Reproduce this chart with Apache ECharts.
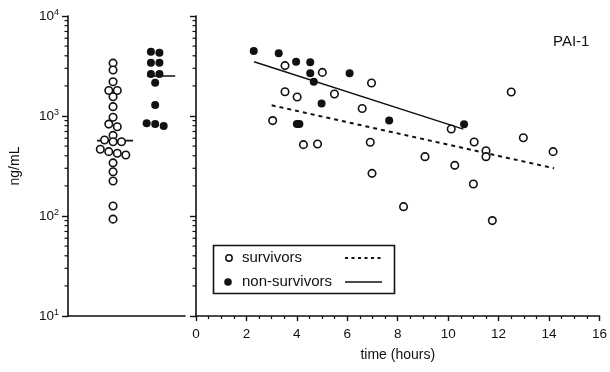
<!DOCTYPE html>
<html><head><meta charset="utf-8">
<script src="https://cdn.jsdelivr.net/npm/echarts@6/dist/echarts.min.js"></script>
<style>html,body{margin:0;padding:0;background:#fff}#c{width:610px;height:372px}</style>
</head><body><div id="c"></div>
<script>
// ---------- DATA ----------
// Left panel: one PAI-1 value per patient (ng/mL)
const leftSurvivors = [3380, 2880, 2200, 1800, 1800, 1560, 1240, 970, 830, 780, 640, 575, 553, 553, 465, 440, 424, 407, 340, 277, 224, 126, 93];
const leftNonSurvivors = [4400, 4290, 3410, 3410, 2630, 2630, 2150, 1290, 845, 832, 794];
const leftMedians = [567, 2510]; // survivors, non-survivors

// Right panel: value vs time
const survTime  = [3.53, 5.01, 6.96, 3.53, 4.01, 5.49, 6.59, 3.04, 4.26, 4.82, 6.91, 6.98, 8.23, 9.08, 10.12, 11.03, 11.5, 11.5, 10.26, 11.0, 11.75, 12.5, 12.98, 14.16];
const survValue = [3190, 2730, 2140, 1750, 1550, 1660, 1190, 900, 517, 525, 546, 267, 124, 392, 741, 550, 450, 392, 321, 209, 90, 1740, 607, 440];
const nonTime   = [2.29, 3.28, 3.97, 4.53, 4.53, 4.67, 6.09, 4.98, 4.0, 4.1, 7.66, 10.63];
const nonValue  = [4470, 4240, 3490, 3440, 2670, 2200, 2670, 1330, 830, 830, 900, 826];

// Regression lines (end points)
const survFitTime = [3.0, 14.2];
const survFitValue = [1280, 300];
const nonFitTime = [2.3, 10.6];
const nonFitValue = [3490, 740];

// Axis ticks
const xTicks = [0, 2, 4, 6, 8, 10, 12, 14, 16];
const yDecades = [10, 100, 1000, 10000];
const yMinorTicks = [];
for (let d = 10; d < 10000; d *= 10) for (let m = 2; m <= 9; m++) yMinorTicks.push(m * d);

// ---------- LAYOUT ----------
const FONT = 'Liberation Sans, Arial, Helvetica, sans-serif';
const INK = '#111';
const leftW = 117;
const survCenter = 0.385, nonCenter = 0.745;
const stepX = 8.5 / leftW;

function swarm(values, thr) {
  const idx = values.map((v, i) => i).sort((a, b) => values[b] - values[a]);
  const rows = []; let cur = []; let last = null;
  idx.forEach(i => {
    const l = Math.log10(values[i]);
    if (last !== null && last - l > thr) { rows.push(cur); cur = []; }
    cur.push(i); last = l;
  });
  if (cur.length) rows.push(cur);
  const off = [];
  rows.forEach(r => r.forEach((i, k) => { off[i] = k - (r.length - 1) / 2; }));
  return off;
}
const survOff = swarm(leftSurvivors, 0.045);
const nonOff = swarm(leftNonSurvivors, 0.045);

const chart = echarts.init(document.getElementById('c'), null, {renderer: 'canvas'});

function minorTickSeries(xi, yi, xAtAxis) {
  return {
    type: 'custom', xAxisIndex: xi, yAxisIndex: yi, clip: false, silent: true, z: 5,
    data: yMinorTicks.map(v => [xAtAxis, v]),
    renderItem: function (params, api) {
      const p = api.coord([api.value(0), api.value(1)]);
      return {type: 'line', shape: {x1: p[0] - 3.5, y1: p[1], x2: p[0], y2: p[1]},
        style: {stroke: INK, lineWidth: 1.2}};
    }
  };
}

const yAxisCommon = {
  type: 'log', logBase: 10, min: 10, max: 10000,
  axisLine: {show: true, onZero: false, lineStyle: {color: INK, width: 1.6}},
  axisTick: {show: true, length: 6, lineStyle: {color: INK, width: 1.4}},
  splitLine: {show: false}
};

const option = {
  animation: false,
  backgroundColor: '#fff',
  grid: [
    {left: 68, top: 16, width: leftW, height: 300},
    {left: 196, top: 16, width: 404, height: 300}
  ],
  xAxis: [
    {gridIndex: 0, type: 'value', min: 0, max: 1,
      axisLine: {show: true, onZero: false, lineStyle: {color: INK, width: 1.6}},
      axisTick: {show: false}, axisLabel: {show: false}, splitLine: {show: false}},
    {gridIndex: 1, type: 'value', min: 0, max: 16, interval: 2,
      axisLine: {show: true, onZero: false, lineStyle: {color: INK, width: 1.6}},
      axisTick: {show: true, length: 5, lineStyle: {color: INK, width: 1.4}},
      minorTick: {show: true, splitNumber: 4, length: 3, lineStyle: {color: INK, width: 1.2}},
      axisLabel: {color: INK, fontFamily: FONT, fontSize: 13.5, margin: 11,
        formatter: v => xTicks.includes(v) ? String(v) : ''},
      splitLine: {show: false},
      name: 'time (hours)', nameLocation: 'middle', nameGap: 32,
      nameTextStyle: {color: INK, fontFamily: FONT, fontSize: 14}}
  ],
  yAxis: [
    Object.assign({}, yAxisCommon, {gridIndex: 0,
      axisLabel: {show: true, margin: 9, color: INK, fontFamily: FONT,
        formatter: v => {
          const e = Math.round(Math.log10(v));
          return yDecades.includes(Math.round(v)) ? '{b|10}{s|' + e + '}' : '';
        },
        rich: {
          b: {fontSize: 13.5, fontFamily: FONT, color: INK, lineHeight: 16},
          s: {fontSize: 9, fontFamily: FONT, color: INK, verticalAlign: 'top', lineHeight: 16, padding: [0, 0, 6, 0]}
        }},
      name: 'ng/mL', nameLocation: 'middle', nameGap: 46, nameRotate: 90,
      nameTextStyle: {color: INK, fontFamily: FONT, fontSize: 14}}),
    Object.assign({}, yAxisCommon, {gridIndex: 1, axisLabel: {show: false}})
  ],
  series: [
    minorTickSeries(0, 0, 0),
    minorTickSeries(1, 1, 0),
    // left medians
    {type: 'line', xAxisIndex: 0, yAxisIndex: 0, symbol: 'none', z: 3,
      lineStyle: {color: INK, width: 1.6},
      data: [[survCenter - 16 / leftW, leftMedians[0]], [survCenter + 20 / leftW, leftMedians[0]]]},
    {type: 'line', xAxisIndex: 0, yAxisIndex: 0, symbol: 'none', z: 3,
      lineStyle: {color: INK, width: 1.6},
      data: [[nonCenter - 8 / leftW, leftMedians[1]], [nonCenter + 20 / leftW, leftMedians[1]]]},
    // left dots
    {type: 'scatter', xAxisIndex: 0, yAxisIndex: 0, symbol: 'circle', symbolSize: 7.5, z: 4,
      itemStyle: {color: '#fff', borderColor: INK, borderWidth: 1.6, opacity: 1},
      data: leftSurvivors.map((v, i) => [survCenter + survOff[i] * stepX, v])},
    {type: 'scatter', xAxisIndex: 0, yAxisIndex: 0, symbol: 'circle', symbolSize: 8, z: 4,
      itemStyle: {color: INK, opacity: 1},
      data: leftNonSurvivors.map((v, i) => [nonCenter + nonOff[i] * stepX, v])},
    // right fit lines
    {type: 'line', xAxisIndex: 1, yAxisIndex: 1, symbol: 'none', z: 3,
      lineStyle: {color: INK, width: 2, type: [4, 4]},
      data: survFitTime.map((t, i) => [t, survFitValue[i]])},
    {type: 'line', xAxisIndex: 1, yAxisIndex: 1, symbol: 'none', z: 3,
      lineStyle: {color: INK, width: 1.4},
      data: nonFitTime.map((t, i) => [t, nonFitValue[i]])},
    // right dots
    {type: 'scatter', xAxisIndex: 1, yAxisIndex: 1, symbol: 'circle', symbolSize: 7.5, z: 4,
      itemStyle: {color: '#fff', borderColor: INK, borderWidth: 1.6, opacity: 1},
      data: survTime.map((t, i) => [t, survValue[i]])},
    {type: 'scatter', xAxisIndex: 1, yAxisIndex: 1, symbol: 'circle', symbolSize: 8, z: 4,
      itemStyle: {color: INK, opacity: 1},
      data: nonTime.map((t, i) => [t, nonValue[i]])}
  ],
  graphic: [
    {type: 'text', left: 553, top: 34, z: 10,
      style: {text: 'PAI-1', fill: INK, font: '15px ' + FONT}},
    // legend box
    {type: 'rect', shape: {x: 213.5, y: 245.5, width: 181, height: 48}, z: 10,
      style: {fill: '#fff', stroke: INK, lineWidth: 1.6}},
    {type: 'circle', shape: {cx: 229, cy: 258, r: 3.2}, z: 11,
      style: {fill: '#fff', stroke: INK, lineWidth: 1.5}},
    {type: 'text', x: 242, y: 258, z: 11,
      style: {text: 'survivors', fill: INK, font: '15px ' + FONT, verticalAlign: 'middle'}},
    {type: 'line', shape: {x1: 345, y1: 258, x2: 381, y2: 258}, z: 11,
      style: {stroke: INK, lineWidth: 1.8, lineDash: [3, 3.5]}},
    {type: 'circle', shape: {cx: 228, cy: 282, r: 3.8}, z: 11,
      style: {fill: INK}},
    {type: 'text', x: 242, y: 282, z: 11,
      style: {text: 'non-survivors', fill: INK, font: '15px ' + FONT, verticalAlign: 'middle'}},
    {type: 'line', shape: {x1: 345, y1: 282, x2: 382, y2: 282}, z: 11,
      style: {stroke: INK, lineWidth: 1.3}}
  ]
};
chart.setOption(option);
</script></body></html>
